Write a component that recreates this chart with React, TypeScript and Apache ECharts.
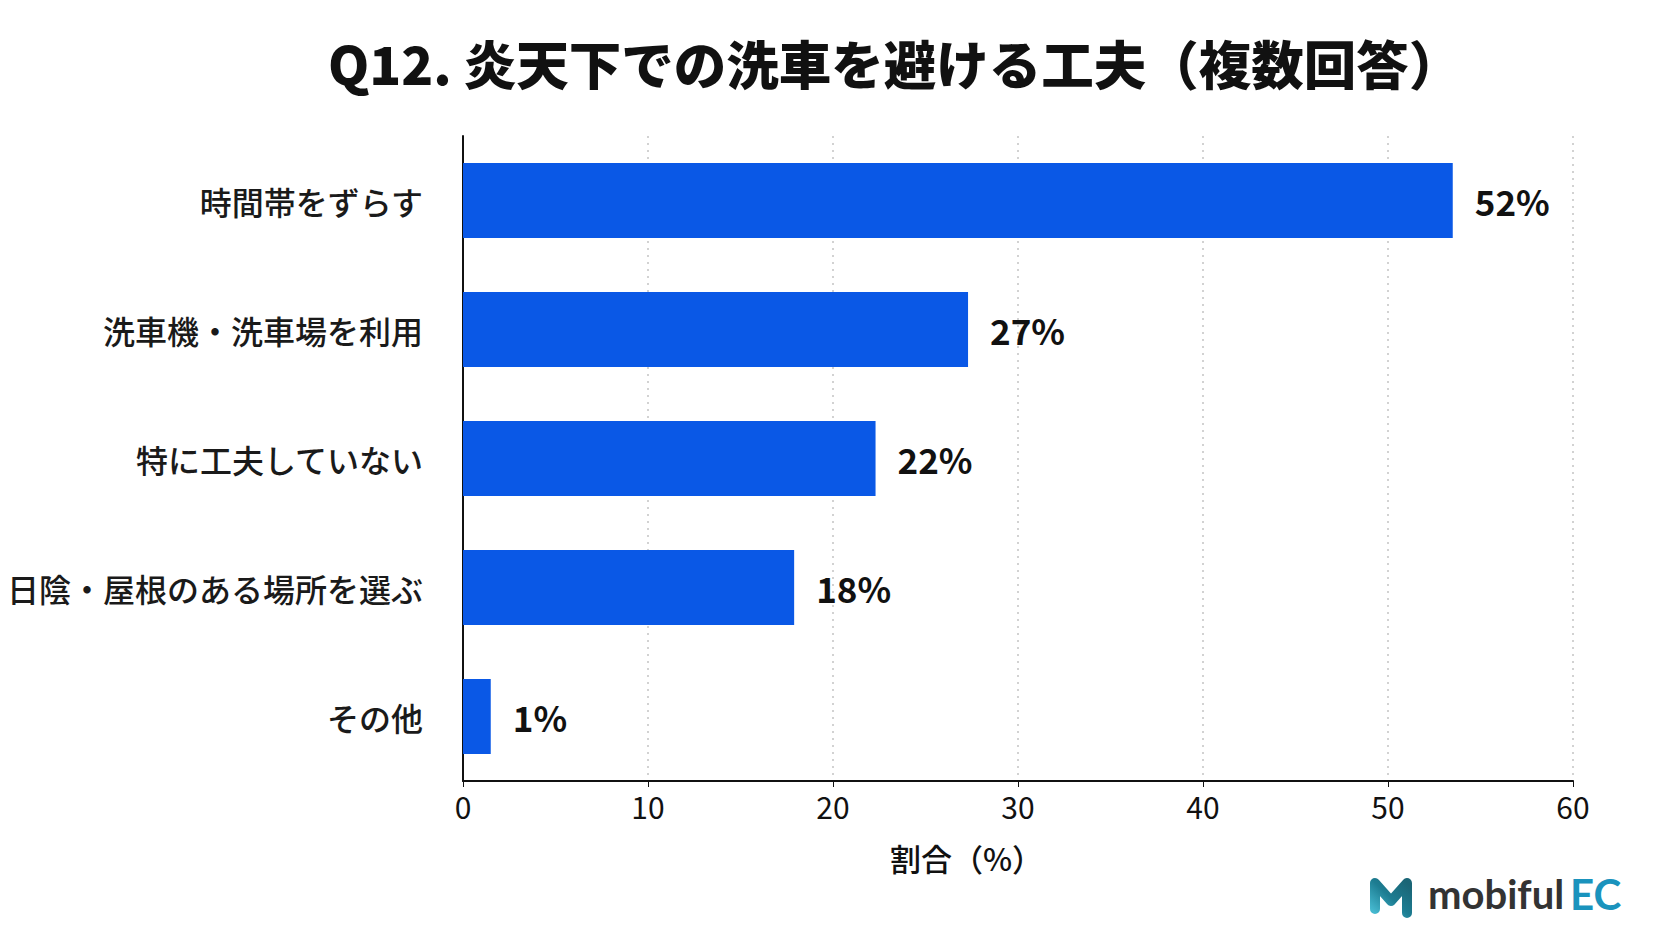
import React, { useEffect, useRef } from "react";
import * as echarts from "echarts";

const categories = [
  "時間帯をずらす",
  "洗車機・洗車場を利用",
  "特に工夫していない",
  "日陰・屋根のある場所を選ぶ",
  "その他",
];
const values = [53.5, 27.3, 22.3, 17.9, 1.5];
const valueLabels = ["52%", "27%", "22%", "18%", "1%"];
const titleText = "Q12. 炎天下での洗車を避ける工夫（複数回答）";
const axisName = "割合（%）";

const JP = '"Noto Sans CJK JP", "Noto Sans", sans-serif';

export default function App() {
  const ref = useRef<HTMLDivElement>(null);
  useEffect(() => {
    if (!ref.current) return;
    const chart = echarts.init(ref.current, null, { renderer: "svg" });
    chart.setOption({
      animation: false,
      backgroundColor: "#ffffff",
      textStyle: { fontFamily: JP },
      grid: { left: 463, top: 136, width: 1110, height: 645, containLabel: false },
      xAxis: {
        type: "value",
        min: 0,
        max: 60,
        interval: 10,
        axisLine: { show: true, lineStyle: { color: "#111", width: 2 } },
        axisTick: { show: true, length: 6, lineStyle: { color: "#111", width: 1 } },
        axisLabel: { fontSize: 30, color: "#111", margin: 10, fontFamily: JP },
        splitLine: { show: true, lineStyle: { type: [2, 5], color: "#c4c4c4", width: 1.5 } },
      },
      yAxis: {
        type: "category",
        inverse: true,
        data: categories,
        axisLine: { show: true, lineStyle: { color: "#111", width: 2 } },
        axisTick: { show: false },
        axisLabel: { fontSize: 32, fontWeight: 500, color: "#1a1a1a", margin: 40, fontFamily: JP },
        splitLine: { show: false },
      },
      series: [
        {
          type: "bar",
          data: values,
          barWidth: 75,
          itemStyle: { color: "#0a58e6" },
          label: {
            show: true,
            position: "right",
            distance: 22,
            fontSize: 35,
            fontWeight: "bold",
            color: "#111",
            fontFamily: JP,
            formatter: (p: any) => valueLabels[p.dataIndex],
          },
        },
      ],
      graphic: [
        {
          type: "text",
          x: 328,
          y: 62,
          style: {
            text: titleText,
            font: `900 52.5px ${JP}`,
            fill: "#111",
            verticalAlign: "middle",
          },
        },
        {
          type: "text",
          x: 890,
          y: 857,
          style: {
            text: axisName,
            font: `500 31px ${JP}`,
            fill: "#111",
            align: "left",
            verticalAlign: "middle",
          },
        },
        {
          type: "polyline",
          shape: {
            points: [
              [1375, 909],
              [1375, 883],
              [1391, 901],
              [1407, 883],
              [1407, 913],
            ],
          },
          style: {
            stroke: new echarts.graphic.LinearGradient(0, 1, 1, 0, [
              { offset: 0, color: "#45b8cf" },
              { offset: 0.5, color: "#1d7d92" },
              { offset: 1, color: "#1a6576" },
            ]),
            lineWidth: 10,
            lineCap: "round",
            lineJoin: "round",
            fill: "none",
          },
        },
        {
          type: "text",
          x: 1428,
          y: 894,
          style: {
            text: "mobiful",
            font: 'bold 40px Lato, "Noto Sans", sans-serif',
            fill: "#333333",
            verticalAlign: "middle",
          },
        },
        {
          type: "text",
          x: 1570,
          y: 894,
          style: {
            text: "EC",
            font: 'bold 42px Lato, "Noto Sans", sans-serif',
            fill: "#1a93bd",
            verticalAlign: "middle",
          },
        },
      ],
    });
    return () => chart.dispose();
  }, []);
  return (
    <div
      ref={ref}
      style={{ position: "fixed", left: 0, top: 0, width: 1672, height: 941, background: "#fff" }}
    />
  );
}
